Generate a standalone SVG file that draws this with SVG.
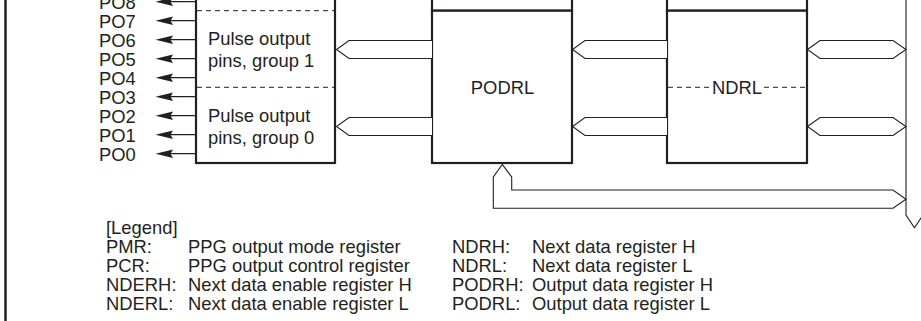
<svg xmlns="http://www.w3.org/2000/svg" width="921" height="321" viewBox="0 0 921 321">
<style>
  text { font-family: "Liberation Sans", Arial, sans-serif; font-size: 18.4px; fill: #231f20; }
  .box { fill: #fff; stroke: #231f20; stroke-width: 2.2; }
  .dash { fill: none; stroke: #231f20; stroke-width: 1; stroke-dasharray: 5 4; }
  .bus { fill: #fff; stroke: #231f20; stroke-width: 1.1; stroke-linejoin: miter; }
  .pin { stroke: #231f20; stroke-width: 1.2; fill: none; }
  .head { fill: #231f20; }
</style>
<rect width="921" height="321" fill="#fff"/>
<line x1="5.5" y1="0" x2="5.5" y2="321" stroke="#231f20" stroke-width="2.5"/>

<g id="pulse-output">
  <rect class="box" x="196" y="-10" width="139" height="173"/>
  <line class="dash" x1="197" y1="10.7" x2="334" y2="10.7"/>
  <line class="dash" x1="197" y1="87.3" x2="334" y2="87.3"/>
  <text x="208" y="45">Pulse output</text>
  <text x="208" y="67">pins, group 1</text>
  <text x="208" y="122">Pulse output</text>
  <text x="208" y="144">pins, group 0</text>
</g>

<g id="podrh">
  <rect class="box" x="432" y="-10" width="140" height="20.7"/>
</g>
<g id="podrl">
  <rect class="box" x="432" y="10.7" width="140" height="152.3"/>
  <text x="502.5" y="94" text-anchor="middle">PODRL</text>
</g>

<g id="ndrh">
  <rect class="box" x="667" y="-10" width="140" height="20.7"/>
</g>
<g id="ndrl">
  <rect class="box" x="667" y="10.7" width="140" height="152.3"/>
  <line class="dash" x1="668" y1="87.3" x2="711" y2="87.3"/>
  <line class="dash" x1="764" y1="87.3" x2="806" y2="87.3"/>
  <text x="737" y="94" text-anchor="middle">NDRL</text>
</g>

<g id="pins">
  <text x="99" y="8.5">PO8</text>
  <text x="99" y="27.5">PO7</text>
  <text x="99" y="46.5">PO6</text>
  <text x="99" y="65.5">PO5</text>
  <text x="99" y="84.5">PO4</text>
  <text x="99" y="103.5">PO3</text>
  <text x="99" y="122.5">PO2</text>
  <text x="99" y="141.5">PO1</text>
  <text x="99" y="160.5">PO0</text>
</g>

<g id="connectors">
  <g id="pin-arrows">
    <path class="pin" d="M196 1.7H168M196 20.7H168M196 39.7H168M196 58.7H168M196 77.7H168M196 96.7H168M196 115.7H168M196 134.7H168M196 153.7H168"/>
    <path class="head" d="M155.5 1.7L173 -2.5L170.5 1.7L173 5.9Z M155.5 20.7L173 16.5L170.5 20.7L173 24.9Z M155.5 39.7L173 35.5L170.5 39.7L173 43.9Z M155.5 58.7L173 54.5L170.5 58.7L173 62.9Z M155.5 77.7L173 73.5L170.5 77.7L173 81.9Z M155.5 96.7L173 92.5L170.5 96.7L173 100.9Z M155.5 115.7L173 111.5L170.5 115.7L173 119.9Z M155.5 134.7L173 130.5L170.5 134.7L173 138.9Z M155.5 153.7L173 149.5L170.5 153.7L173 157.9Z"/>
  </g>
  <polyline class="bus" points="432,40.5 349,40.5 336.5,49.5 349,58.5 432,58.5"/>
  <polyline class="bus" points="432,117.5 349,117.5 336.5,126.5 349,135.5 432,135.5"/>
  <polyline class="bus" points="667,40.5 585,40.5 572.5,49.5 585,58.5 667,58.5"/>
  <polyline class="bus" points="667,117.5 585,117.5 572.5,126.5 585,135.5 667,135.5"/>
  <polygon class="bus" points="807.5,49.5 820,40.5 893,40.5 906,49.5 893,58.5 820,58.5"/>
  <polygon class="bus" points="807.5,126.5 820,117.5 893,117.5 906,126.5 893,135.5 820,135.5"/>
  <polygon class="bus" points="502.3,164.5 493.3,177 493.3,208.3 893,208.3 906,199.3 893,190 511.7,190 511.7,177"/>
  <polyline class="bus" points="906,-2 906,215 914.5,227.7 923,215 923,-2" style="fill:none"/>
</g>

<g id="legend">
  <text x="106" y="234">[Legend]</text>
  <text x="106" y="253">PMR:</text>
  <text x="188" y="253">PPG output mode register</text>
  <text x="106" y="272">PCR:</text>
  <text x="188" y="272">PPG output control register</text>
  <text x="106" y="291">NDERH:</text>
  <text x="188" y="291">Next data enable register H</text>
  <text x="106" y="310">NDERL:</text>
  <text x="188" y="310">Next data enable register L</text>
  <text x="452" y="253">NDRH:</text>
  <text x="532" y="253">Next data register H</text>
  <text x="452" y="272">NDRL:</text>
  <text x="532" y="272">Next data register L</text>
  <text x="452" y="291">PODRH:</text>
  <text x="532" y="291">Output data register H</text>
  <text x="452" y="310">PODRL:</text>
  <text x="532" y="310">Output data register L</text>
</g>
</svg>
